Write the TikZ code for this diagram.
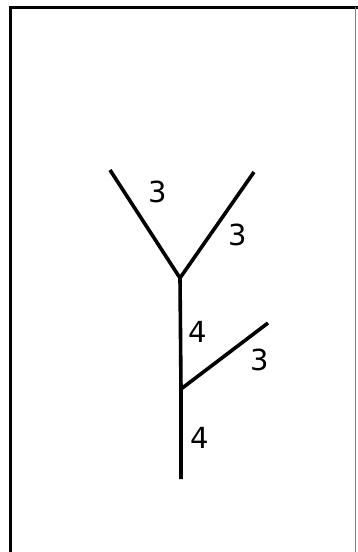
\documentclass[tikz,border=0pt]{standalone}
\usepackage{fontspec}
\setmainfont{DejaVu Sans}
\begin{document}
\begin{tikzpicture}[x=1pt,y=-1pt,
  edge/.style={line width=3.6pt},
  lbl/.style={font=\fontsize{29}{30}\selectfont, inner sep=0pt}]
\useasboundingbox (0,0) rectangle (357,552);
\draw[line width=3pt] (10,560) -- (10,7) -- (365,7);
\draw[line width=1pt, black!50] (355.5,7) -- (355.5,560);
\coordinate (tl) at (110,170);
\coordinate (tr) at (254,172);
\coordinate (j) at (180,278);
\coordinate (m) at (181,389);
\coordinate (br) at (268,323);
\coordinate (b) at (181,479);
\draw[edge] (tl) -- (j);
\draw[edge] (tr) -- (j);
\draw[edge] (j) -- (m) -- (b);
\draw[edge] (m) -- (br);
\node[lbl] (l1) at (158,192) {3};
\node[lbl] (l2) at (238,235) {3};
\node[lbl] (l3) at (198,332) {4};
\node[lbl] (l4) at (260,360) {3};
\node[lbl] (l5) at (200,438) {4};
\end{tikzpicture}
\end{document}
